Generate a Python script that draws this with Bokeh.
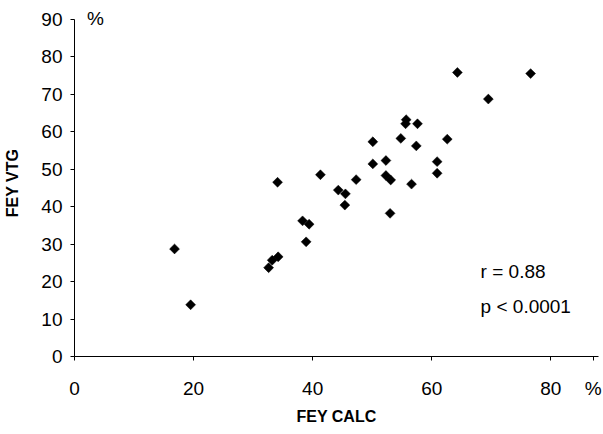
import math
from bokeh.plotting import figure
from bokeh.models import Range1d, FixedTicker, Label, ColumnDataSource
from bokeh.embed import file_html
from bokeh.resources import INLINE

# Data (FEY CALC vs FEY VTG, %)
fey_calc = [16.8, 19.5, 32.6, 33.2, 34.2, 38.9, 38.3, 39.4, 34.1, 41.3,
            44.3, 45.5, 47.3, 45.4, 50.1, 50.1, 52.3, 52.3, 53.1, 53.0,
            54.8, 55.7, 55.6, 57.6, 57.4, 56.6, 64.3, 76.6, 69.5, 62.6,
            60.9, 60.9]
fey_vtg = [28.7, 13.8, 23.7, 25.7, 26.6, 30.6, 36.2, 35.3, 46.5, 48.5,
           44.4, 43.4, 47.2, 40.4, 57.3, 51.4, 52.3, 48.3, 47.1, 38.2,
           58.2, 63.2, 62.1, 62.1, 56.2, 46.0, 75.8, 75.5, 68.7, 58.0,
           52.0, 48.9]
x_ticks = [0, 20, 40, 60, 80]
y_ticks = [0, 10, 20, 30, 40, 50, 60, 70, 80, 90]
unit_label = "%"
x_unit_pos = 87.1
stats_lines = ["r = 0.88", "p < 0.0001"]

FONT = "Liberation Sans"

p = figure(width=603, height=434, output_backend="svg", toolbar_location=None,
           x_range=Range1d(0, 88), y_range=Range1d(0, 92.6),
           min_border_left=74, min_border_right=5, min_border_top=9, min_border_bottom=78)
p.outline_line_color = None
p.xgrid.grid_line_color = None
p.ygrid.grid_line_color = None
p.background_fill_color = "white"
p.border_fill_color = "white"

src = ColumnDataSource(dict(x=fey_calc, y=fey_vtg))
p.scatter("x", "y", source=src, marker="square", size=7, angle=math.pi / 4,
          fill_color="black", line_color="black", line_width=0.5)

for ax in (p.xaxis[0], p.yaxis[0]):
    ax.axis_line_color = "black"
    ax.axis_line_width = 1
    ax.major_tick_line_color = "black"
    ax.minor_tick_line_color = None
    ax.major_tick_in = 0
    ax.major_tick_out = 4
    ax.major_label_text_font = FONT
    ax.major_label_text_font_size = "19px"
    ax.major_label_text_color = "black"
    ax.axis_label_text_font = FONT
    ax.axis_label_text_font_size = "16px"
    ax.axis_label_text_font_style = "bold"
    ax.axis_label_text_color = "black"

p.xaxis.ticker = FixedTicker(ticks=x_ticks + [x_unit_pos])
p.xaxis.major_label_overrides = {x_unit_pos: unit_label}
p.yaxis.ticker = FixedTicker(ticks=y_ticks)
p.yaxis.bounds = (y_ticks[0], y_ticks[-1])
p.xaxis.axis_label = "FEY CALC"
p.yaxis.axis_label = "FEY VTG"
p.xaxis.major_label_standoff = 17
p.xaxis.axis_label_standoff = 6
p.yaxis.major_label_standoff = 8
p.yaxis.axis_label_standoff = 17

# unit mark at the top of the y axis
p.add_layout(Label(x=3.5, y=90.1, text=unit_label, text_font=FONT, text_font_size="19px",
                   text_baseline="middle", text_align="center", text_color="black"))

# statistics
p.add_layout(Label(x=68.2, y=22.7, text=stats_lines[0], text_font=FONT, text_font_size="19px",
                   text_baseline="alphabetic", text_align="left", text_color="black"))
p.add_layout(Label(x=68.2, y=13.35, text=stats_lines[1], text_font=FONT, text_font_size="19px",
                   text_baseline="alphabetic", text_align="left", text_color="black"))

open("out.html", "w").write(file_html(p, INLINE))
